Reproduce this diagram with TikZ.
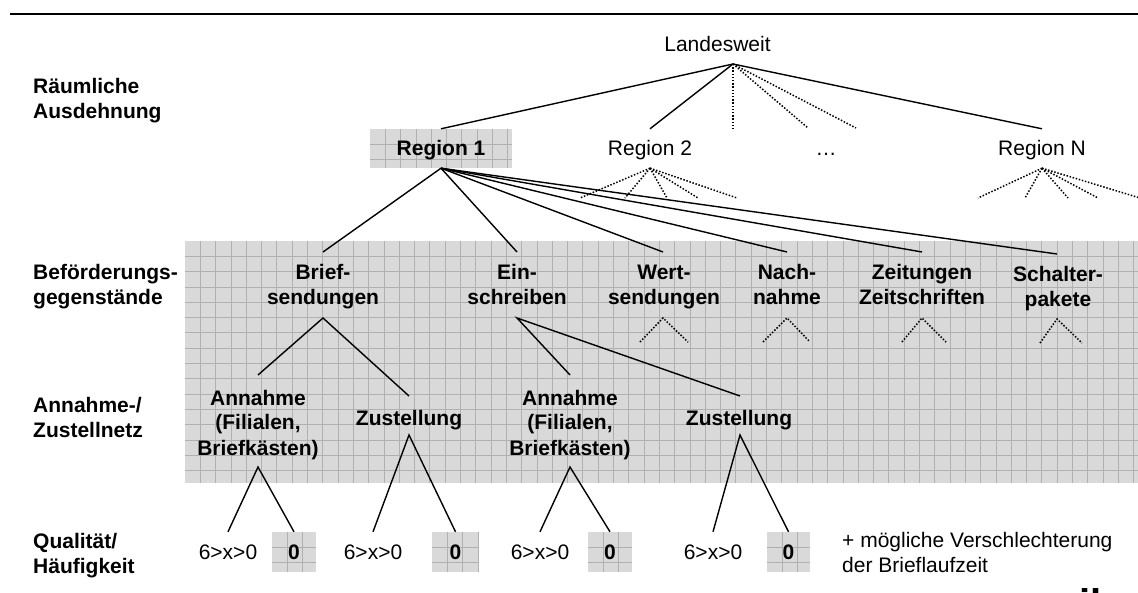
\documentclass[tikz,border=0pt]{standalone}
\usepackage{fontspec}
\setmainfont{Liberation Sans}
\usetikzlibrary{calc}
\definecolor{panelfill}{RGB}{217,217,217}
\definecolor{gridcol}{RGB}{176,176,176}
\begin{document}
\begin{tikzpicture}[x=1pt,y=-1pt,
  font=\fontsize{21}{25}\selectfont,
  conn/.style={line width=1.4pt},
  dotline/.style={line width=1.5pt,dash pattern=on 1.5pt off 1.7pt},
  gridln/.style={gridcol,line width=0.7pt},
  lbl/.style={align=left,anchor=west,inner sep=0,font=\fontsize{21}{25}\selectfont\bfseries},
  cat/.style={align=center,inner sep=0,font=\fontsize{21}{25}\selectfont\bfseries},
  plain/.style={align=left,inner sep=0},
  regnode/.style={inner sep=0,minimum height=39pt,text height=15pt,text depth=0pt},
  leaf/.style={inner sep=0,minimum height=40pt,text height=15pt,text depth=0pt},
  gridbox/.style={fill=panelfill,path picture={
    \foreach \i in {1,...,9}{
      \draw[gridln] ([xshift={15.3pt*\i}]path picture bounding box.north west) -- ([xshift={15.3pt*\i}]path picture bounding box.south west);
      \draw[gridln] ([yshift={-15.3pt*\i}]path picture bounding box.north west) -- ([yshift={-15.3pt*\i}]path picture bounding box.north east);
    }}},
]
\useasboundingbox (0,0) rectangle (1138,593);

% top rule
\draw[line width=2.4pt] (10,14) -- (1138,14);

% gridded background panel
\begin{scope}
\fill[panelfill] (185,241) rectangle (1138,483);
\clip (185,241) rectangle (1138,483);
\foreach \k in {1,...,62} \draw[gridln] ({185+15.3*\k},241) -- ({185+15.3*\k},483);
\foreach \k in {1,...,15} \draw[gridln] (185,{241+15.3*\k}) -- (1138,{241+15.3*\k});
\end{scope}

% row labels
\node[lbl] (l1) at (33,101.5) {Räumliche\strut\\Ausdehnung\strut};
\node[lbl] (l2) at (33,287.5) {Beförderungs-\strut\\gegenstände\strut};
\node[lbl] (l3) at (33,420.5) {Annahme-/\strut\\Zustellnetz\strut};
\node[lbl] (l4) at (33,555.5) {Qualität/\strut\\Häufigkeit\strut};

% level 0
\node[inner sep=0] (land) at (717.5,47) {Landesweit\strut};
\coordinate (land-b) at (733,64);

% level 1
\node[regnode,gridbox,minimum width=142pt,font=\fontsize{21}{25}\selectfont\bfseries] (r1) at (441,148.5) {Region 1};
\node[regnode] (r2) at (650,148.5) {Region 2};
\node[regnode] (rdots) at (826,148.5) {…};
\node[regnode] (rN) at (1042,148.5) {Region N};

\coordinate (ld1) at (733,129);
\coordinate (ld2) at (808,128);
\coordinate (ld3) at (856,128);

\draw[conn] (land-b) -- (r1.north);
\draw[conn] (land-b) -- (r2.north);
\draw[conn] (land-b) -- (rN.north);
\foreach \c in {ld1,ld2,ld3} \draw[dotline] (land-b) -- (\c);

% fans below Region 2 and Region N
\foreach \x in {580,625,667,698,737} \draw[dotline] (r2.south) -- (\x,198);
\foreach \x in {978,1025,1068,1098,1140} \draw[dotline] (rN.south) -- (\x,198);

% level 2 categories
\node[cat] (brief) at (323,287.5) {Brief-\strut\\sendungen\strut};
\node[cat] (ein) at (517,287.5) {Ein-\strut\\schreiben\strut};
\node[cat] (wert) at (664,287.5) {Wert-\strut\\sendungen\strut};
\node[cat] (nach) at (787,287.5) {Nach-\strut\\nahme\strut};
\node[cat] (zeit) at (922,287.5) {Zeitungen\strut\\Zeitschriften\strut};
\node[cat] (schalt) at (1058,289.5) {Schalter-\strut\\pakete\strut};

\coordinate (brief-t) at (323,252);
\coordinate (ein-t) at (517,252);
\coordinate (wert-t) at (663,252);
\coordinate (nach-t) at (787,252);
\coordinate (zeit-t) at (922,252);
\coordinate (schalt-t) at (1057,254);
\foreach \c in {brief-t,ein-t,wert-t,nach-t,zeit-t,schalt-t} \draw[conn] (r1.south) -- (\c);

% small dotted fans
\coordinate (wert-b) at (663,318);
\coordinate (nach-b) at (787,318);
\coordinate (zeit-b) at (922,318);
\coordinate (schalt-b) at (1057,319);
\draw[dotline] (640,342) -- (wert-b) -- (688,342);
\draw[dotline] (763,342) -- (nach-b) -- (810,342);
\draw[dotline] (902,342) -- (zeit-b) -- (946,342);
\draw[dotline] (1040,343) -- (schalt-b) -- (1082,343);

% level 3
\node[cat] (ann1) at (258,425) {Annahme\strut\\(Filialen,\strut\\Briefkästen)\strut};
\node[cat] (zust1) at (409,420) {Zustellung\strut};
\node[cat] (ann2) at (570,425) {Annahme\strut\\(Filialen,\strut\\Briefkästen)\strut};
\node[cat] (zust2) at (739,420) {Zustellung\strut};

\coordinate (brief-b) at (323,318);
\coordinate (ein-b) at (517,318);
\coordinate (ann1-t) at (258,375);
\coordinate (zust1-t) at (409,396);
\coordinate (ann2-t) at (570,375);
\coordinate (zust2-t) at (740,396);
\draw[conn] (ann1-t) -- (brief-b) -- (zust1-t);
\draw[conn] (ann2-t) -- (ein-b) -- (zust2-t);

% level 4
\node[leaf] (q1) at (228,552) {6>x>0};
\node[leaf,gridbox,minimum width=44pt,font=\fontsize{21}{25}\selectfont\bfseries] (z1) at (294,552) {0};
\node[leaf] (q2) at (373,552) {6>x>0};
\node[leaf,gridbox,minimum width=47pt,font=\fontsize{21}{25}\selectfont\bfseries] (z2) at (455.5,552) {0};
\node[leaf] (q3) at (540,552) {6>x>0};
\node[leaf,gridbox,minimum width=44pt,font=\fontsize{21}{25}\selectfont\bfseries] (z3) at (610,552) {0};
\node[leaf] (q4) at (713,552) {6>x>0};
\node[leaf,gridbox,minimum width=43pt,font=\fontsize{21}{25}\selectfont\bfseries] (z4) at (788.5,552) {0};

\coordinate (ann1-b) at (258,467);
\coordinate (zust1-b) at (409,435);
\coordinate (ann2-b) at (570,467);
\coordinate (zust2-b) at (740,435);
\draw[conn] (q1.north) -- (ann1-b) -- (z1.north);
\draw[conn] (q2.north) -- (zust1-b) -- (z2.north);
\draw[conn] (q3.north) -- (ann2-b) -- (z3.north);
\draw[conn] (q4.north) -- (zust2-b) -- (z4.north);

% note
\node[plain,anchor=west] (note) at (842,554.5) {+ mögliche Verschlechterung\strut\\der Brieflaufzeit\strut};

% cut-off logo
\node[anchor=base west,inner sep=0,font=\fontsize{40}{40}\selectfont\bfseries] (logo) at (1079,617) {il};
\end{tikzpicture}
\end{document}
